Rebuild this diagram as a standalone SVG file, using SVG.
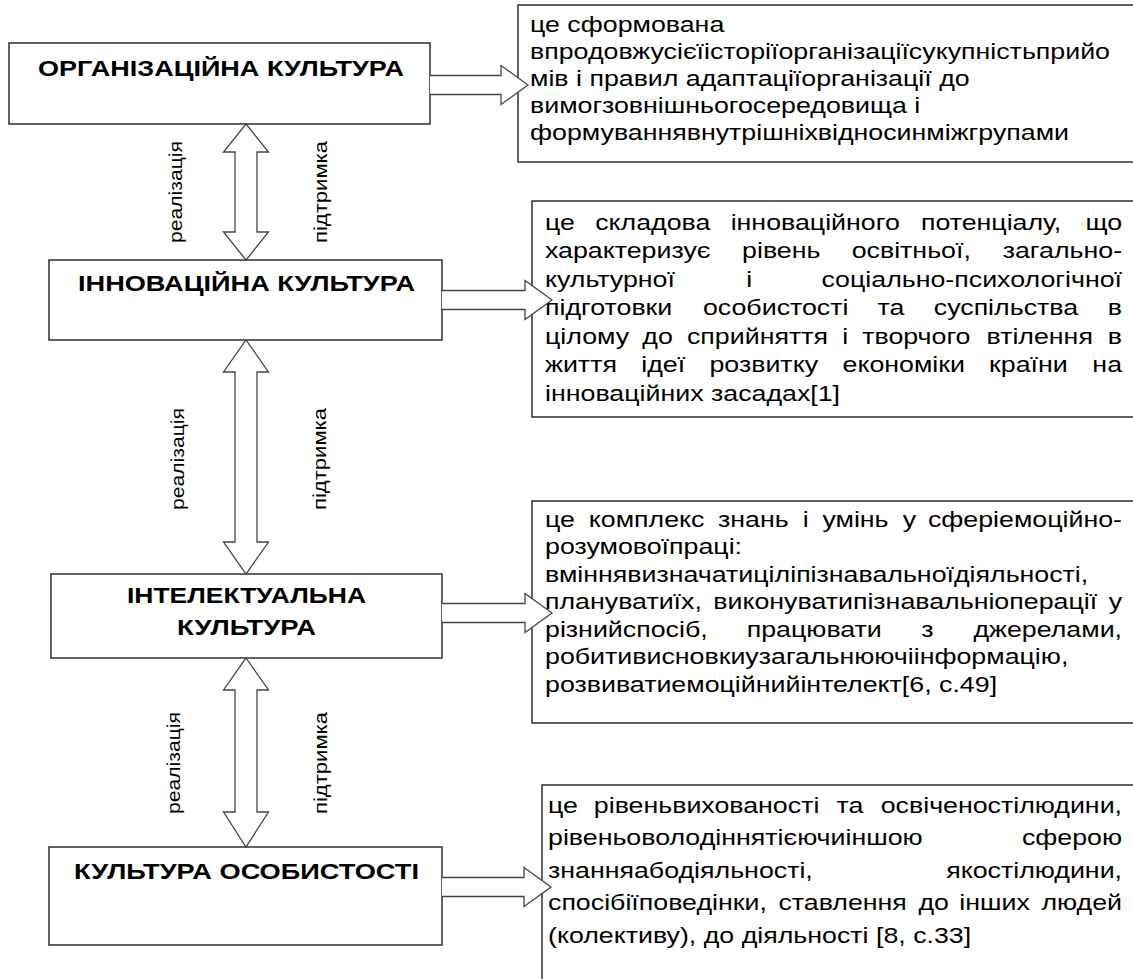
<svg xmlns="http://www.w3.org/2000/svg" width="1133" height="979" viewBox="0 0 1133 979">
<style>
.box{fill:#fff;stroke:#222;stroke-width:1.4}
.arr{fill:#fff;stroke:#444;stroke-width:1.3;stroke-linejoin:miter}
.title{font-family:"Liberation Sans",Arial,sans-serif;font-weight:bold;font-size:21.5px;fill:#000}
.body{font-family:"Liberation Sans",Arial,sans-serif;font-size:22.5px;fill:#000}
.lbl{font-family:"Liberation Sans",Arial,sans-serif;font-size:18px;fill:#000;text-anchor:middle}
.e{text-anchor:end}
</style>
<rect width="1133" height="979" fill="#fff"/>

<g id="node-org">
<rect class="box" x="9" y="43" width="421" height="81"/>
<text class="title" x="38" y="76" textLength="366" lengthAdjust="spacingAndGlyphs">ОРГАНІЗАЦІЙНА КУЛЬТУРА</text>
</g>
<g id="def-org">
<rect class="box" x="518" y="5" width="630" height="157"/>
<g transform="scale(1.19 1)">
<text class="body" x="445.4" y="32">це сформована</text>
<text class="body" x="445.4" y="59">впродовжусієїісторіїорганізаціїсукупністьприйо</text>
<text class="body" x="445.4" y="86">мів і правил адаптаціїорганізації до</text>
<text class="body" x="445.4" y="113">вимогзовнішньогосередовища і</text>
<text class="body" x="445.4" y="140">формуваннявнутрішніхвідносинміжгрупами</text>
</g>
</g>

<g id="node-inn">
<rect class="box" x="49" y="260" width="393" height="80"/>
<text class="title" x="78" y="291" textLength="337" lengthAdjust="spacingAndGlyphs">ІННОВАЦІЙНА КУЛЬТУРА</text>
</g>
<g id="def-inn">
<rect class="box" x="532" y="201" width="616" height="216"/>
<g transform="scale(1.19 1)">
<text class="body" y="230"><tspan x="458">це</tspan><tspan x="500.2">складова</tspan><tspan x="614">інноваційного</tspan><tspan x="773.9">потенціалу,</tspan><tspan x="942.9" class="e">що</tspan></text>
<text class="body" y="258.5"><tspan x="458">характеризує</tspan><tspan x="623.6">рівень</tspan><tspan x="715.7">освітньої,</tspan><tspan x="942.9" class="e">загально-</tspan></text>
<text class="body" y="287"><tspan x="458">культурної</tspan><tspan x="627.1">і</tspan><tspan x="942.9" class="e">соціально-психологічної</tspan></text>
<text class="body" y="315.5"><tspan x="458">підготовки</tspan><tspan x="590.7">особистості</tspan><tspan x="737.5">та</tspan><tspan x="784.7">суспільства</tspan><tspan x="942.9" class="e">в</tspan></text>
<text class="body" y="344"><tspan x="458">цілому</tspan><tspan x="539.8">до</tspan><tspan x="577.3">сприйняття</tspan><tspan x="707.8">і</tspan><tspan x="724.6">творчого</tspan><tspan x="829">втілення</tspan><tspan x="942.9" class="e">в</tspan></text>
<text class="body" y="372.5"><tspan x="458">життя</tspan><tspan x="538.9">ідеї</tspan><tspan x="596.2">розвитку</tspan><tspan x="708">економіки</tspan><tspan x="831.2">країни</tspan><tspan x="942.9" class="e">на</tspan></text>
<text class="body" x="458" y="401">інноваційних засадах[1]</text>
</g>
</g>

<g id="node-int">
<rect class="box" x="51" y="574" width="391" height="84"/>
<text class="title" x="127" y="603" textLength="239" lengthAdjust="spacingAndGlyphs">ІНТЕЛЕКТУАЛЬНА</text>
<text class="title" x="177" y="635" textLength="139" lengthAdjust="spacingAndGlyphs">КУЛЬТУРА</text>
</g>
<g id="def-int">
<rect class="box" x="532" y="501" width="616" height="222"/>
<g transform="scale(1.19 1)">
<text class="body" y="527"><tspan x="458">це</tspan><tspan x="494.8">комплекс</tspan><tspan x="603.4">знань</tspan><tspan x="674.5">і</tspan><tspan x="691.1">умінь</tspan><tspan x="758.7">у</tspan><tspan x="942.9" class="e">сферіемоційно-</tspan></text>
<text class="body" x="458" y="554.5">розумовоїпраці:</text>
<text class="body" x="458" y="582">вміннявизначатиціліпізнавальноїдіяльності,</text>
<text class="body" y="609.5"><tspan x="458">плануватиїх,</tspan><tspan x="599.4">виконуватипізнавальніоперації</tspan><tspan x="942.9" class="e">у</tspan></text>
<text class="body" y="637"><tspan x="458">різнийспосіб,</tspan><tspan x="627.5">працювати</tspan><tspan x="774.2">з</tspan><tspan x="942.9" class="e">джерелами,</tspan></text>
<text class="body" x="458" y="664.5">робитивисновкиузагальнюючіінформацію,</text>
<text class="body" x="458" y="692">розвиватиемоційнийінтелект[6, с.49]</text>
</g>
</g>

<g id="node-pers">
<rect class="box" x="49" y="847" width="393" height="98"/>
<text class="title" x="74" y="879" textLength="345" lengthAdjust="spacingAndGlyphs">КУЛЬТУРА ОСОБИСТОСТІ</text>
</g>
<g id="def-pers">
<rect class="box" x="542" y="785" width="606" height="220"/>
<g transform="scale(1.19 1)">
<text class="body" y="813"><tspan x="460.5">це</tspan><tspan x="499">рівеньвихованості</tspan><tspan x="702.9">та</tspan><tspan x="942.9" class="e">освіченостілюдини,</tspan></text>
<text class="body" y="845.5"><tspan x="460.5">рівеньоволодіннятієючиіншою</tspan><tspan x="942.9" class="e">сферою</tspan></text>
<text class="body" y="878"><tspan x="460.5">знанняабодіяльності,</tspan><tspan x="942.9" class="e">якостілюдини,</tspan></text>
<text class="body" y="910.5"><tspan x="460.5">спосібіїповедінки,</tspan><tspan x="654.2">ставлення</tspan><tspan x="771.8">до</tspan><tspan x="806.2">інших</tspan><tspan x="942.9" class="e">людей</tspan></text>
<text class="body" x="460.5" y="943">(колективу), до діяльності [8, с.33]</text>
</g>
</g>

<g id="connectors">
<path class="arr" d="M430,75.5 L501,75.5 L501,65.5 L528,85 L501,104.5 L501,94.5 L430,94.5"/>
<path class="arr" d="M442,290.5 L525,290.5 L525,280.5 L552,300 L525,319.5 L525,309.5 L442,309.5"/>
<path class="arr" d="M442,603.5 L525,603.5 L525,593.5 L552,613 L525,632.5 L525,622.5 L442,622.5"/>
<path class="arr" d="M442,877.5 L524,877.5 L524,867.5 L551,887 L524,906.5 L524,896.5 L442,896.5"/>
<path class="arr" d="M246,124 L268.5,152 L257,152 L257,232 L268.5,232 L246,260 L223.5,232 L235,232 L235,152 L223.5,152 Z"/>
<path class="arr" d="M246,340 L268.5,372 L257,372 L257,542 L268.5,542 L246,574 L223.5,542 L235,542 L235,372 L223.5,372 Z"/>
<path class="arr" d="M246,658 L268.5,690 L257,690 L257,812 L268.5,812 L246,847 L223.5,812 L235,812 L235,690 L223.5,690 Z"/>
<text class="lbl" transform="translate(182,192) rotate(-90)" textLength="102" lengthAdjust="spacingAndGlyphs">реалізація</text>
<text class="lbl" transform="translate(327,192) rotate(-90)" textLength="102" lengthAdjust="spacingAndGlyphs">підтримка</text>
<text class="lbl" transform="translate(184,459) rotate(-90)" textLength="102" lengthAdjust="spacingAndGlyphs">реалізація</text>
<text class="lbl" transform="translate(326,459) rotate(-90)" textLength="102" lengthAdjust="spacingAndGlyphs">підтримка</text>
<text class="lbl" transform="translate(180,763) rotate(-90)" textLength="102" lengthAdjust="spacingAndGlyphs">реалізація</text>
<text class="lbl" transform="translate(327,763) rotate(-90)" textLength="102" lengthAdjust="spacingAndGlyphs">підтримка</text>
</g>
</svg>
